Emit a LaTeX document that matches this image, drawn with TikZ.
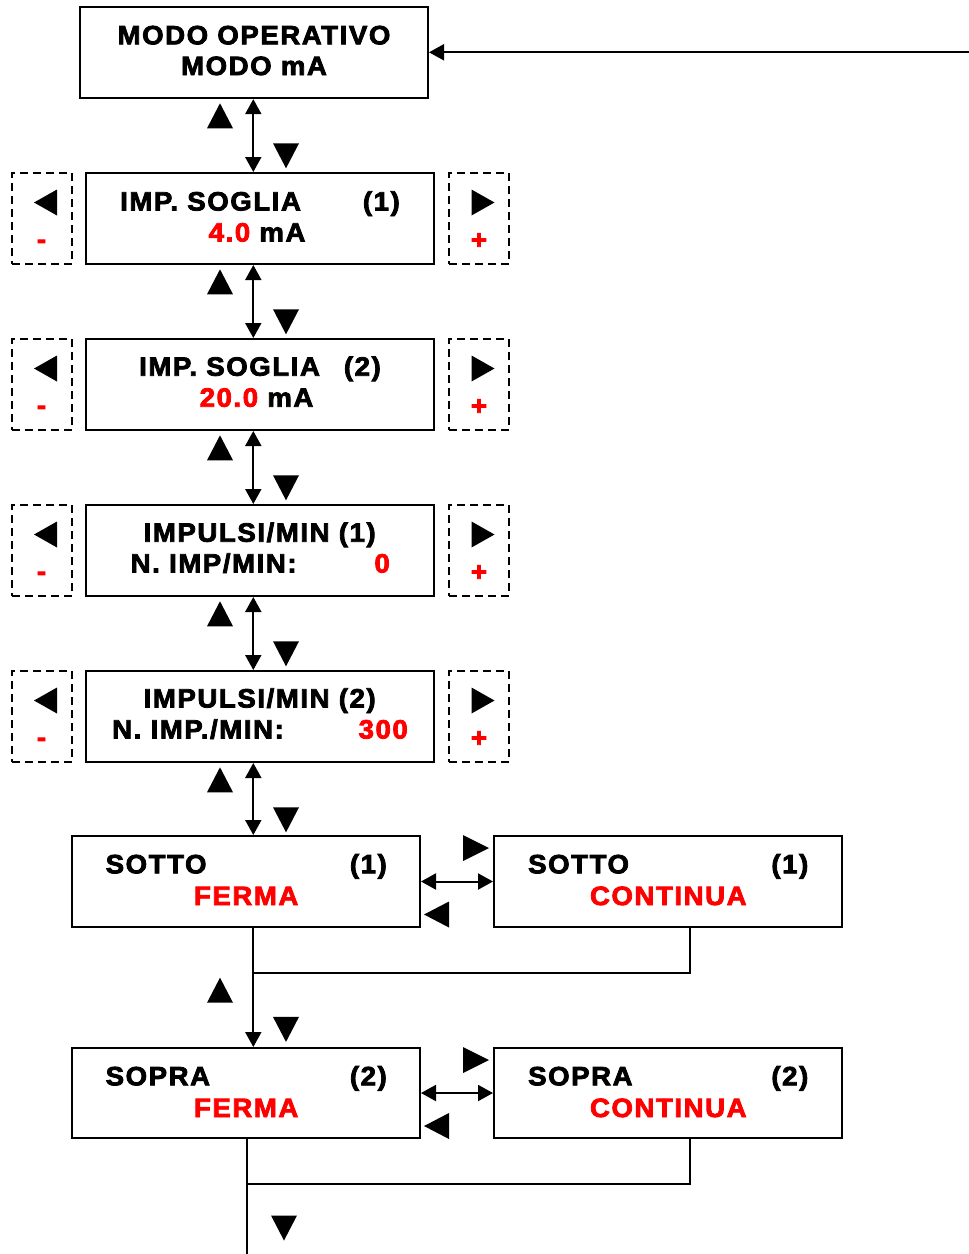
\documentclass[tikz,border=0pt]{standalone}
\usepackage{fontspec}
\newfontfamily\dfont{Liberation Sans}[FakeStretch=1.04,LetterSpace=6,BoldFeatures={FakeBold=3}]
\usetikzlibrary{arrows.meta}
\definecolor{rd}{RGB}{255,0,0}
\tikzset{
  box/.style={draw, line width=2pt, minimum width=348pt, minimum height=91pt, inner sep=0pt},
  dbox/.style={draw, line width=1.5pt, dash pattern=on 8pt off 5pt, minimum width=60pt, minimum height=91pt, inner sep=0pt},
  txt/.style={inner sep=0pt, font=\dfont\fontsize{26.5pt}{30pt}\selectfont\bfseries},
  rtxt/.style={txt, text=rd},
  conn/.style={line width=2pt},
  dbl/.style={conn, {Triangle[length=15pt,width=16pt]}-{Triangle[length=15pt,width=16pt]}},
  arr/.style={conn, -{Triangle[length=15pt,width=16pt]}},
  tri/.style={fill=black}
}
\newcommand\triup[2]{\fill[tri] ({#1-13},{#2+12.5}) -- ({#1+13},{#2+12.5}) -- (#1,{#2-12.5}) -- cycle;}
\newcommand\tridn[2]{\fill[tri] ({#1-13},{#2-12.5}) -- ({#1+13},{#2-12.5}) -- (#1,{#2+12.5}) -- cycle;}
\newcommand\trilt[3]{\fill[tri] ({#1+#3},{#2-13}) -- ({#1+#3},{#2+13}) -- ({#1-#3},#2) -- cycle;}
\newcommand\trirt[3]{\fill[tri] ({#1-#3},{#2-13}) -- ({#1-#3},{#2+13}) -- ({#1+#3},#2) -- cycle;}
\begin{document}
\begin{tikzpicture}[x=1pt,y=-1pt]
\useasboundingbox (0,0) rectangle (969,1254);
% main boxes
\node[box] (b0) at (254,52.65) {};
\node[box] (b1) at (260,218.5) {};
\node[box] (b2) at (260,384.5) {};
\node[box] (b3) at (260,550.5) {};
\node[box] (b4) at (260,716.5) {};
\node[box] (b5) at (246,881.5) {};
\node[box] (b6) at (668,881.5) {};
\node[box, minimum height=90pt] (b7) at (246,1093) {};
\node[box, minimum height=90pt] (b8) at (668,1093) {};
% dashed side boxes
\foreach \n/\y in {1/218.5,2/384.5,3/550.5,4/716.5}{
  \node[dbox] (l\n) at (42,\y) {};
  \node[dbox] (r\n) at (479,\y) {};
  \trilt{45.5}{\y-16}{11.5}
  \trirt{483}{\y-16}{11.5}
  \node[rtxt] (lm\n) at (41.5,\y+25.5) {-};
  \node[rtxt] (rp\n) at (479,\y+22.5) {+};
}
% texts
\node[txt, anchor=base] (t0a) at (254,44.3) {MODO OPERATIVO};
\node[txt, anchor=base] (t0b) at (254,75) {MODO mA};
\node[txt, anchor=base west] (t1a) at (120,210.5) {IMP. SOGLIA};
\node[txt, anchor=base east] (t1b) at (400,210.5) {(1)};
\node[txt, anchor=base west] (t1c) at (208.5,241.5) {\textcolor{rd}{4.0} mA};
\node[txt, anchor=base west] (t2a) at (139,375.7) {IMP. SOGLIA};
\node[txt, anchor=base east] (t2b) at (381,375.7) {(2)};
\node[txt, anchor=base west] (t2c) at (199.5,406.7) {\textcolor{rd}{20.0} mA};
\node[txt, anchor=base] (t3a) at (259.7,541.7) {IMPULSI/MIN (1)};
\node[txt, anchor=base west] (t3b) at (130.5,572.5) {N. IMP/MIN:};
\node[rtxt, anchor=base east] (t3c) at (390,572.5) {0};
\node[txt, anchor=base] (t4a) at (259.7,707.5) {IMPULSI/MIN (2)};
\node[txt, anchor=base west] (t4b) at (112,738.5) {N. IMP./MIN:};
\node[rtxt, anchor=base east] (t4c) at (408,738.5) {300};
\node[txt, anchor=base west] (t5a) at (105.5,873.3) {SOTTO};
\node[txt, anchor=base east] (t5b) at (387,873.3) {(1)};
\node[rtxt, anchor=base] (t5c) at (246.2,905) {FERMA};
\node[txt, anchor=base west] (t6a) at (528,873.3) {SOTTO};
\node[txt, anchor=base east] (t6b) at (808.5,873.3) {(1)};
\node[rtxt, anchor=base] (t6c) at (668.3,905) {CONTINUA};
\node[txt, anchor=base west] (t7a) at (105.5,1085.3) {SOPRA};
\node[txt, anchor=base east] (t7b) at (387,1085.3) {(2)};
\node[rtxt, anchor=base] (t7c) at (246.2,1117) {FERMA};
\node[txt, anchor=base west] (t8a) at (528,1085.3) {SOPRA};
\node[txt, anchor=base east] (t8b) at (808.5,1085.3) {(2)};
\node[rtxt, anchor=base] (t8c) at (668.3,1117) {CONTINUA};
% connectors
\coordinate (in0) at (969,52.3);
\draw[arr] (in0) -- (in0 -| b0.east);
\coordinate (vx) at (253.3,0);
\draw[dbl] (b0.south -| vx) -- (b1.north -| vx);
\draw[dbl] (b1.south -| vx) -- (b2.north -| vx);
\draw[dbl] (b2.south -| vx) -- (b3.north -| vx);
\draw[dbl] (b3.south -| vx) -- (b4.north -| vx);
\draw[dbl] (b4.south -| vx) -- (b5.north -| vx);
\draw[dbl] (b5.east) -- (b6.west);
\draw[dbl] (b7.east) -- (b8.west);
\coordinate (r1) at (690,972.7);
\draw[conn] (r1 |- b6.south) -- (r1) -- (r1 -| vx);
\draw[arr] (b5.south -| vx) -- (b7.north -| vx);
\coordinate (vx2) at (247,0);
\coordinate (r2) at (690,1183.5);
\draw[conn] (r2 |- b8.south) -- (r2) -- (r2 -| vx2);
\coordinate (endb) at (247,1254);
\draw[conn] (b7.south -| vx2) -- (endb);
% navigation triangles
\foreach \B in {98,264,430,596,762}{
  \triup{220}{\B+17.8}
  \tridn{286}{\B+57.8}
}
\triup{220}{990.2}
\tridn{286}{1029.4}
\tridn{284}{1228}
\trirt{476}{848}{13}
\trilt{436.5}{914.5}{12.5}
\trirt{476}{1060}{13}
\trilt{436.5}{1126}{12.5}
\end{tikzpicture}
\end{document}
